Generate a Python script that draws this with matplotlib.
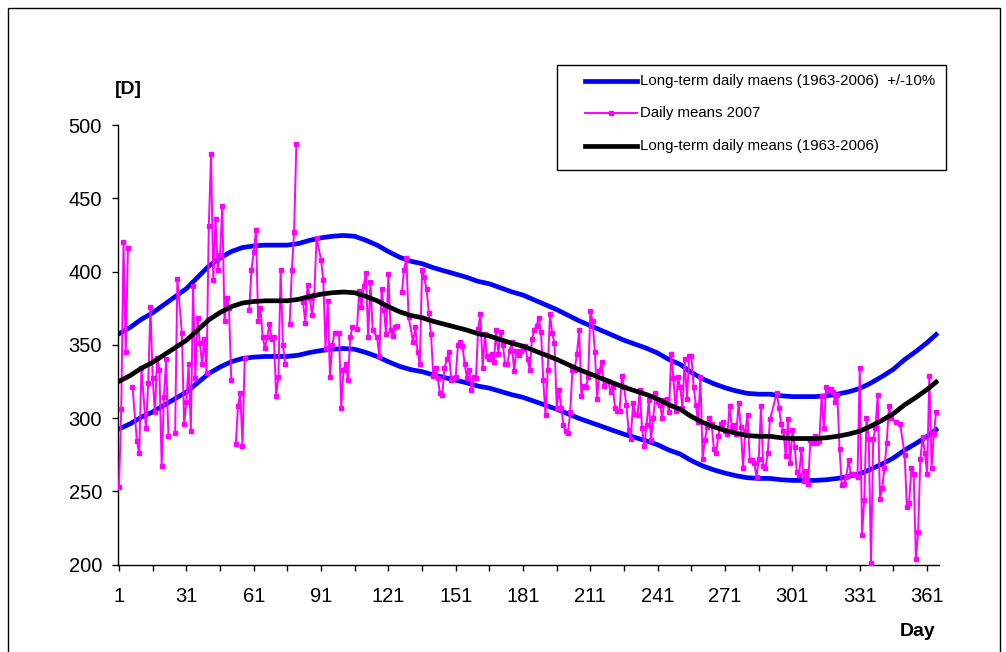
import numpy as np
import matplotlib
matplotlib.use("Agg")
import matplotlib.pyplot as plt
from matplotlib.patches import Rectangle
from matplotlib.lines import Line2D

plt.rcParams['font.family'] = ['Liberation Sans', 'DejaVu Sans']

# long-term daily means (1963-2006), read every 5 days
mean_days = [1, 6, 11, 16, 21, 26, 31, 36, 41, 46, 51, 56, 61, 66, 71, 76, 81, 86, 91, 96,
             101, 106, 111, 116, 121, 126, 131, 136, 141, 146, 151, 156, 161, 166, 171, 176,
             181, 186, 191, 196, 201, 206, 211, 216, 221, 226, 231, 236, 241, 246, 251, 256,
             261, 266, 271, 276, 281, 286, 291, 296, 301, 306, 311, 316, 321, 326, 331, 336,
             341, 346, 351, 356, 361, 365]
mean_vals = [325, 329, 334, 338, 343, 348, 353, 360, 367, 372, 376, 378.5, 379.5, 380, 380, 380,
             381, 383, 384.5, 385.5, 386, 385.5, 383, 380, 376, 372.5, 370, 368.5, 366, 364,
             362, 360, 357.5, 356, 353.5, 351, 349, 346, 343, 340, 336.5, 333, 330, 327, 324,
             321, 318.5, 316, 313, 309, 306, 301, 297, 294, 291.5, 289.5, 288, 287.5, 287.5,
             286.5, 286, 286, 286, 286.5, 287.5, 289, 291, 294.5, 298.5, 303, 309, 314, 319.5,
             324.5]

# daily means 2007 (nan = missing day)
nan = np.nan
pink_days = [1, 2, 3, 4, 5, 6, 7, 9, 10, 11, 13, 14, 15, 16, 17, 18, 19, 20, 21, 22, 23, 24,
             26, 27, 29, 30, 31, 32, 33, 34, 35, 36, 37, 38, 39, 40, 41, 42, 43, 44, 45, 46,
             47, 48, 49, 50, 51, 52, 53, 54, 55, 56, 57, 58, 59, 60, 61, 62, 63, 64, 65, 66,
             67, 68, 69, 70, 71, 72, 73, 74, 75, 76, 77, 78, 79,
             80, 81, 83, 84, 85, 86, 87, 88, 89, 91, 92, 93, 94, 95, 96, 97, 98, 99, 100, 101,
             102, 103, 104, 105, 107, 108, 109, 110, 111, 112, 113, 114, 116, 117, 118, 119,
             120, 121,
             122, 123, 124, 125, 126, 127, 128, 129, 130, 132, 133, 134, 135, 136, 137, 138,
             139, 140, 141, 142, 143, 144, 145, 146, 147, 148, 149, 150, 151, 152, 153, 154,
             155, 156, 157, 158, 159, 160, 161, 162, 163, 164,
             165, 166, 167, 168, 169, 170, 171, 172, 173, 174, 175, 176, 177, 178, 179, 180,
             181, 182, 183, 184, 185, 186, 187, 188, 189, 190, 191, 192, 193, 194, 195, 196,
             197, 198, 199, 200, 201, 202, 203, 204, 205, 206,
             207, 208, 209, 210, 211, 212, 213, 214, 215, 216, 217, 218, 219, 220, 221, 222,
             223, 224, 225, 226, 227, 228, 229, 230, 231, 232, 233, 234, 235, 236, 237, 238,
             239, 240, 241, 242, 243, 244, 245, 246, 247, 248,
             249, 250, 251, 252, 253, 254, 255, 256, 257, 258, 259, 260, 261, 262, 263, 264,
             265, 266, 267, 268, 269, 270, 271, 272, 273, 274, 275, 276, 277, 278, 279, 280,
             281, 282, 283, 284, 285, 286, 287, 288, 289, 290, 291,
             294, 295, 296, 297, 298, 299, 300, 301, 302, 303, 304, 305, 306, 307, 308, 309,
             310, 311, 312, 313, 314, 315, 316, 317, 318, 319, 320, 321, 322, 323, 324, 325,
             326, 327, 328, 329, 330, 331,
             332, 333, 334, 335, 336, 337, 338, 339, 340, 341, 342, 343, 344, 345, 347, 349,
             351, 352, 353, 354, 355, 356, 357, 358, 359, 360, 361, 362, 363, 364, 365]
pink_vals = [253, 306, 420, 345, 416, nan, 321, 284, 276, 334, 293, 324, 376, 327, 304, 341, 333,
             267, 314, 340, 288, nan, 290, 395, 358, 296, 311, 337, 291, 390, 327, 368, 351, 337,
             354, 331, 431, 480, 394, 436, 401, 411, 445, 366, 382, 375, 326, nan, 282, 308, 317,
             281, 341, nan, 374, 401, 413, 428, 366, 375, 355, 348, 355, 364, 354, 355, 315, 328,
             401, 350, 337, nan, 364, 401, 427,
             487, nan, 379, 365, 391, 382, 370, 384, 423, 408, 394, 348, 380, 328, 350, 358, 358,
             358, 307, 333, 337, 326, 355, 362, 361, 387, 376, 390, 399, 355, 393, 360, 355, 342,
             388, 374, 357, 398,
             360, 356, 362, 363, nan, 386, 401, 409, 369, 352, 362, 345, 337, 401, 396, 388, 372,
             357, 329, 334, 327, 317, 316, 334, 340, 345, 326, 327, 328, 350, 352, 349, 337, 327,
             333, 319, 328, 327, 361, 371, 334, 357,
             342, 340, 344, 338, 360, 344, 359, 350, 337, 337, 346, 352, 332, 346, 343, 346, 347,
             349, 340, 333, 354, 360, 363, 368, 359, 326, 302, 333, 371, 358, 351, 307, 319, 307,
             295, 291, 290, 304, 333, 333, 344, 360,
             315, 322, 321, 328, 373, 366, 345, 313, 332, 338, 322, 325, 325, 318, 321, 307, 305,
             305, 329, 321, 309, 292, 286, 310, 303, 302, 319, 293, 281, 295, 312, 285, 300, 317,
             311, 309, 300, 312, 313, 304, 344, 327,
             305, 328, 321, 307, 340, 313, 342, 342, 321, 309, 297, 328, 272, 285, 294, 300, 296,
             279, 276, 288, 296, 297, 291, 289, 308, 294, 295, 289, 310, 294, 266, 291, 302, 271,
             271, 269, 260, 272, 308, 267, 266, 276, 299,
             317, 307, 296, 291, 274, 299, 269, 292, 280, 263, 261, 279, 257, 264, 255, 285, 283,
             288, 283, 284, 315, 293, 321, 319, 320, 318, 311, 316, 279, 254, 255, 260, 271, 262,
             262, 261, 260, 334,
             220, 244, 300, 286, 201, 286, 293, 316, 245, 252, 266, 283, 308, 300, 297, 296, 275,
             239, 242, 266, 262, 204, 222, 272, 287, 276, 262, 329, 266, 289, 304]

x_ticks = list(range(1, 366, 15))
x_labels = [str(d) if (d - 1) % 30 == 0 else '' for d in x_ticks]
y_ticks = [200, 250, 300, 350, 400, 450, 500]

legend_labels = ['Long-term daily maens (1963-2006)  +/-10%',
                 'Daily means 2007',
                 'Long-term daily means (1963-2006)']

W, H = 1006, 652
fig = plt.figure(figsize=(W / 100, H / 100), dpi=100)
ax = fig.add_axes([118 / W, 1 - 564.5 / H, (939 - 118) / W, (564.5 - 125) / H])

mean_arr = np.array(mean_vals)
# band is the long-term mean +/- 10 %
ax.plot(mean_days, mean_arr * 1.1, color='#0000FF', lw=3.4, zorder=2)
ax.plot(mean_days, mean_arr * 0.9, color='#0000FF', lw=3.4, zorder=2)
ax.plot(pink_days, pink_vals, color='#FF00FF', lw=1.4, marker='s', ms=3.4,
        mec='#FF00FF', mfc='#FF00FF', zorder=3)
ax.plot(mean_days, mean_arr, color='black', lw=3.4, zorder=4)

ax.set_xlim(0.55, 366.3)
ax.set_ylim(200, 500)
ax.set_xticks(x_ticks)
ax.set_xticklabels(x_labels)
ax.set_yticks(y_ticks)
for s in ['top', 'right']:
    ax.spines[s].set_visible(False)
for s in ['left', 'bottom']:
    ax.spines[s].set_linewidth(1.0)
ax.tick_params(axis='both', direction='out', length=4.5, width=1.0, labelsize=14.5)
ax.tick_params(axis='x', pad=12)
ax.tick_params(axis='y', pad=7)

fig.text(128 / W, 1 - 89 / H, '[D]', fontsize=14, fontweight='bold', ha='center', va='center')
fig.text(918 / W, 1 - 632 / H, 'Day', fontsize=14, fontweight='bold', ha='center', va='center')

# legend box drawn by hand
fig.patches.append(Rectangle((557 / W, 1 - 170 / H), (946 - 557) / W, (170 - 65) / H,
                             transform=fig.transFigure, fill=True, fc='white', ec='black',
                             lw=1.0, zorder=5))
rows_y = [81, 113, 146]
styles = [dict(color='#0000FF', lw=3.4), dict(color='#FF00FF', lw=1.4),
          dict(color='black', lw=3.4)]
for yy, lab, st in zip(rows_y, legend_labels, styles):
    yf = 1 - yy / H
    fig.lines.append(Line2D([585 / W, 637 / W], [yf, yf], transform=fig.transFigure,
                            zorder=6, **st))
    fig.text(640 / W, yf, lab, fontsize=10.8, va='center', ha='left', zorder=7)
fig.lines.append(Line2D([611 / W], [1 - 113 / H], transform=fig.transFigure, marker='s',
                        ms=3.4, color='#FF00FF', zorder=6))

# outer frame
fig.patches.append(Rectangle((8 / W, -0.01), (1000 - 8) / W, 1.01 - 8 / H,
                             transform=fig.transFigure, fill=False, ec='black', lw=1.0))

fig.savefig('out.png', dpi=100)
